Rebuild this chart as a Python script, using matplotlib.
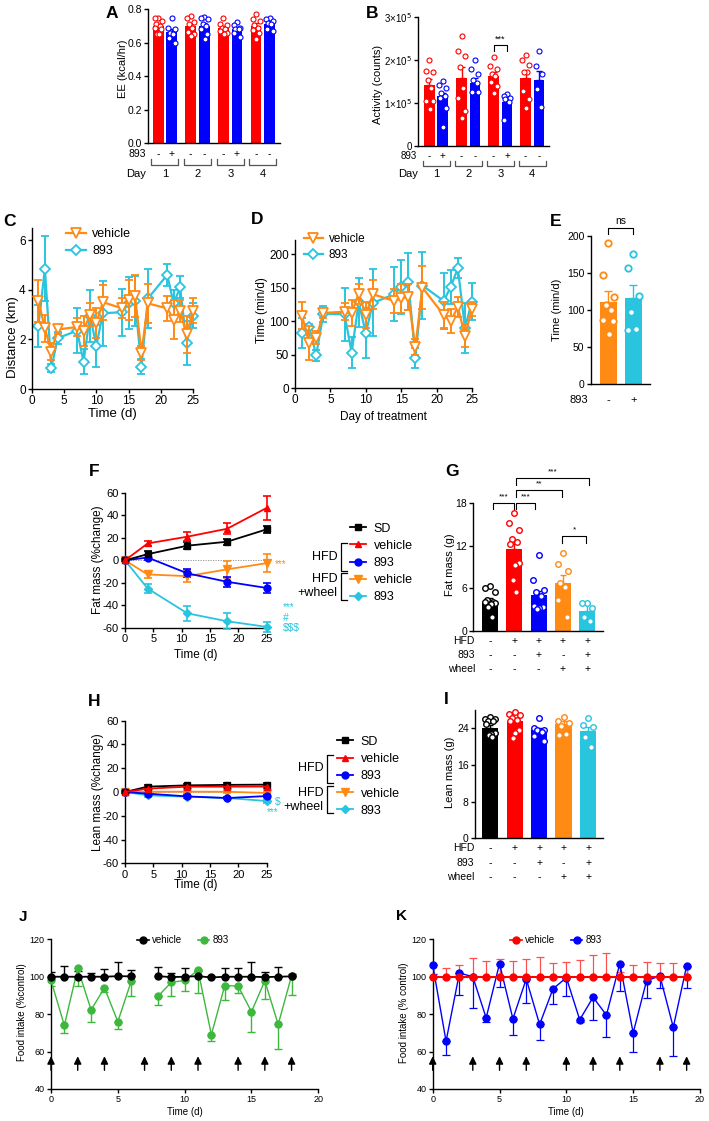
import numpy as np
import matplotlib
matplotlib.use('Agg')
import matplotlib.pyplot as plt
from matplotlib.lines import Line2D
import matplotlib.transforms as mtrans

plt.rcParams['font.family'] = ['Liberation Sans', 'DejaVu Sans']
plt.rcParams['axes.unicode_minus'] = False

W, H = 709, 1121
fig = plt.figure(figsize=(W / 100, H / 100), dpi=100)

RED = '#FF0000'; BLUE = '#0000FF'; ORANGE = '#FF8A14'; CYAN = '#29C4DE'
GREEN = '#3CB83C'; BLACK = '#000000'

# ---------------- data ----------------
# A: energy expenditure
a_means = [0.700, 0.666, 0.700, 0.700, 0.690, 0.683, 0.699, 0.714]
a_err = [0.010, 0.016, 0.015, 0.017, 0.011, 0.012, 0.017, 0.011]
a_pts = [[0.745, 0.745, 0.73, 0.71, 0.70, 0.69, 0.68, 0.66, 0.655, 0.65],
         [0.745, 0.69, 0.685, 0.66, 0.655, 0.63, 0.60],
         [0.76, 0.745, 0.725, 0.715, 0.69, 0.665, 0.65, 0.64],
         [0.755, 0.745, 0.74, 0.71, 0.70, 0.68, 0.655, 0.62],
         [0.745, 0.715, 0.705, 0.69, 0.685, 0.67, 0.66, 0.655],
         [0.725, 0.705, 0.69, 0.685, 0.68, 0.66, 0.635],
         [0.77, 0.74, 0.73, 0.705, 0.69, 0.675, 0.66, 0.625],
         [0.745, 0.74, 0.73, 0.72, 0.71, 0.68, 0.67]]
drug_ab = ['-', '+', '-', '-', '-', '+', '-', '-']
day_labels = ['1', '2', '3', '4']
# B: activity (x1e5 counts)
b_means = [1.41, 1.16, 1.59, 1.47, 1.62, 1.02, 1.57, 1.53]
b_err = [0.14, 0.07, 0.25, 0.12, 0.10, 0.06, 0.17, 0.21]
b_pts = [[2.0, 1.75, 1.73, 1.53, 1.36, 1.05, 1.05, 0.87],
         [1.51, 1.43, 1.36, 1.23, 1.16, 1.12, 0.89, 0.44],
         [2.56, 2.21, 2.09, 1.84, 1.36, 1.12, 0.81, 0.66],
         [1.99, 1.80, 1.68, 1.54, 1.47, 1.26, 1.25],
         [2.07, 1.86, 1.80, 1.68, 1.62, 1.49, 1.39, 1.23],
         [1.20, 1.16, 1.12, 1.09, 1.02, 0.60],
         [2.11, 1.99, 1.88, 1.72, 1.72, 1.29, 1.10, 0.89],
         [2.22, 1.85, 1.67, 1.33, 0.91]]
# C/D: wheel running
cd_days = [1, 2, 3, 4, 7, 8, 9, 10, 11, 14, 15, 16, 17, 18, 21, 22, 23, 24, 25]
c_veh = [3.55, 2.45, 1.5, 2.4, 2.5, 2.35, 3.0, 2.65, 3.5, 3.25, 3.6, 3.75, 1.45, 3.45, 3.25, 2.8, 3.15, 2.2, 3.15]
c_veh_err = [0.85, 0.55, 0.35, 0.2, 0.35, 0.6, 0.45, 0.6, 0.7, 0.4, 0.8, 0.85, 0.3, 0.8, 0.5, 0.8, 0.45, 0.75, 0.5]
c_drug = [2.55, 4.85, 0.85, 2.05, 2.35, 1.1, 2.95, 1.75, 3.05, 3.1, 3.45, 3.55, 0.9, 3.65, 4.6, 3.45, 4.1, 1.85, 2.95]
c_drug_err = [0.85, 1.3, 0.15, 0.25, 0.9, 0.5, 1.05, 0.85, 1.3, 0.95, 1.05, 1.0, 0.3, 1.2, 0.45, 0.55, 0.45, 0.9, 0.5]
d_veh = [108, 67, 75, 112, 114, 112, 141, 109, 140, 130, 134, 136, 61, 150, 109, 100, 121, 78, 118]
d_veh_err = [20, 25, 10, 8, 13, 20, 15, 20, 22, 18, 22, 20, 12, 32, 20, 18, 15, 17, 10]
d_drug = [82, 91, 49, 111, 110, 53, 128, 82, 127, 140, 151, 159, 45, 153, 130, 151, 179, 90, 129]
d_drug_err = [22, 5, 8, 12, 40, 23, 37, 37, 50, 40, 40, 42, 15, 50, 42, 25, 15, 37, 28]
# E
e_means = [111, 115.5]
e_err = [15, 18]
e_pts = [[190.6, 146.5, 117, 106.5, 100, 86, 85, 67], [175, 156, 118.7, 97.5, 73, 73.7]]
e_drug = ['-', '+']
# F/H: body composition time course
fh_days = [0, 4, 11, 18, 25]
fh_names = ['SD', 'vehicle', '893', 'vehicle', '893']
f_vals = [[0, 5.5, 13, 16.5, 27.5],
          [0, 15, 21, 28, 46.5],
          [0, 2.5, -11.5, -19, -24.5],
          [0, -12.5, -14, -8, -2.5],
          [0, -25, -47, -54, -59]]
f_err = [[0.8, 3, 3, 2.5, 3],
         [0.8, 2.5, 4, 5, 10.5],
         [0.8, 2, 3.5, 4.5, 4.5],
         [0.8, 3, 5.5, 7.5, 8],
         [0.8, 4, 6.5, 7, 4.5]]
h_vals = [[0, 4.5, 5.6, 6, 6.2],
          [0, 2.8, 4.5, 4.5, 4.6],
          [0, -1.4, -3.7, -5.1, -3.4],
          [0, 0.2, 0.3, 0.2, -0.8],
          [0, -2.8, -4, -5, -7.6]]
h_err = [[0.5, 1.5, 1.5, 1.5, 1.5],
         [0.5, 1.2, 1.2, 1.2, 1.2],
         [0.5, 1.0, 1.2, 1.2, 1.2],
         [0.5, 1.0, 1.0, 1.0, 1.0],
         [0.5, 1.0, 1.0, 1.0, 1.5]]
# G/I: end-point fat & lean mass
g_means = [4.1, 11.5, 5.04, 6.8, 2.8]
g_err = [0.47, 1.2, 0.6, 1.1, 1.1]
g_pts = [[6.3, 6.1, 5.5, 4.4, 4.1, 4.0, 3.9, 3.8, 3.4, 2.0],
         [16.7, 15.2, 14.2, 12.9, 12.6, 12.3, 9.6, 9.3, 7.2, 5.4],
         [10.7, 7.1, 5.7, 5.5, 4.9, 3.5, 3.3, 3.2, 3.1],
         [11.0, 9.4, 8.5, 6.8, 6.2, 4.4, 2.0],
         [3.9, 3.9, 3.25, 2.0, 1.3]]
i_means = [24.1, 25.5, 23.6, 24.9, 23.4]
i_err = [0.6, 0.5, 0.45, 0.6, 0.8]
i_pts = [[26.5, 26.0, 26.0, 25.6, 25.5, 25.0, 23.0, 22.7, 22.5, 22.0],
         [27.5, 27.1, 26.9, 26.2, 25.8, 25.5, 23.6, 22.9, 21.8],
         [26.2, 24.0, 23.6, 23.6, 23.3, 22.3, 21.3],
         [26.5, 25.5, 25.1, 24.5, 22.8, 22.5],
         [26.3, 24.7, 24.2, 22.2, 19.9]]
row_hfd = ['-', '+', '+', '+', '+']
row_893 = ['-', '-', '+', '-', '+']
row_wheel = ['-', '-', '-', '+', '+']
# J/K: food intake
j_days = [0, 1, 2, 3, 4, 5, 6, 8, 9, 10, 11, 12, 13, 14, 15, 16, 17, 18]
j_veh = [100, 100, 100, 100, 100, 100.3, 100.2, 100.3, 99.8, 100, 100.3, 99.6, 100, 100, 100, 99.8, 100, 100.2]
j_veh_err = [2.5, 5.5, 3, 2, 4, 7.5, 3.5, 5, 2, 4.5, 3, 1, 4.5, 4.5, 8, 2.5, 5, 1]
j_drug = [98, 74, 104.5, 82.3, 94, 76, 97.5, 89.5, 97, 98, 103.5, 69, 95.3, 95, 81.3, 97.8, 74.5, 100.5]
j_drug_err = [3, 4, 9.5, 6.5, 2, 4, 8, 4.5, 7.5, 5.5, 12, 3.5, 7.5, 3.5, 11, 9.5, 13, 10.5]
j_dose = [0, 2, 4, 7, 9, 11, 14, 16, 18]
k_days = list(range(20))
k_veh = [100] * 20
k_veh_err = [7, 4.5, 6, 10, 8.5, 9.5, 8.5, 9.5, 10.5, 7.5, 8, 9, 11.5, 12.5, 2.5, 6, 8, 7.5, 7.5, 5]
k_drug = [106.3, 65.5, 102, 100, 78, 107, 77.5, 98.8, 74.5, 93.5, 99.5, 77, 89, 79.5, 107, 70, 97.8, 100.5, 73, 105.8]
k_drug_err = [5, 7.5, 12, 16.5, 2, 12.5, 8.5, 13, 8.5, 8, 10, 1, 12, 11.5, 14.5, 10, 9, 6.5, 15.5, 12]
k_dose = [0, 3, 5, 7, 10, 12, 14, 17, 19]


# ---------------- helpers ----------------
def panel_ax(x0, yt, x1, yb, tsize=7.5):
    ax = fig.add_axes([x0 / W, 1 - yb / H, (x1 - x0) / W, (yb - yt) / H])
    for s in ['top', 'right']:
        ax.spines[s].set_visible(False)
    for s in ['left', 'bottom']:
        ax.spines[s].set_linewidth(1.0)
    ax.tick_params(direction='out', length=3, width=1.0, pad=1.5, labelsize=tsize)
    return ax


def ftext(xp, yp, s, **kw):
    return fig.text(xp / W, 1 - yp / H, s, **kw)


def fline(xs, ys, **kw):
    kw.setdefault('color', 'k'); kw.setdefault('lw', 0.9)
    fig.add_artist(Line2D([x / W for x in xs], [1 - y / H for y in ys], transform=fig.transFigure, **kw))


def letter(xp, yp, s, size=12.5):
    ftext(xp, yp, s, fontsize=size, fontweight='bold', ha='center', va='center')


def ylab(xp, yp, s, size):
    ftext(xp, yp, s, rotation=90, ha='center', va='center', fontsize=size)


def xlab(xp, yp, s, size):
    ftext(xp, yp, s, ha='center', va='center', fontsize=size)


def spread(vals, w):
    pattern = [0, -1, 1, -0.5, 0.5, -0.9, 0.9, 0.1, -0.3, 0.3]
    order = np.argsort(vals)[::-1]
    off = np.zeros(len(vals))
    for k, idx in enumerate(order):
        off[idx] = pattern[k % len(pattern)] * w
    return off


def bars_with_points(ax, pos, means, errs, pts, cols, width, ms, ew=0.8, cap=2.5):
    ax.bar(pos, means, width=width, color=cols, zorder=1)
    for i in range(len(pos)):
        ax.errorbar(pos[i], means[i], yerr=[[0], [errs[i]]], color=cols[i], capsize=cap,
                    lw=1.0, capthick=1.0, zorder=2)
        off = spread(pts[i], width * 0.32)
        ax.plot(pos[i] + off, pts[i], 'o', ms=ms, mfc='white', mec=cols[i], mew=ew,
                zorder=3, clip_on=False)


def sign_row(ax, xs, signs, yp, label=None, label_xp=None, size=8):
    tr = mtrans.blended_transform_factory(ax.transData, fig.transFigure)
    for x, s in zip(xs, signs):
        ax.text(x, 1 - yp / H, s, transform=tr, ha='center', va='center', fontsize=size)
    if label:
        ftext(label_xp, yp, label, ha='right', va='center', fontsize=size)


def sig_bracket(ax, x1, x2, y, h, txt, size=6.5, lw=0.8):
    ax.plot([x1, x1, x2, x2], [y - h, y, y, y - h], color='k', lw=lw, clip_on=False)
    ax.text((x1 + x2) / 2, y + h * 0.3, txt, ha='center', va='bottom', fontsize=size)


# ---------------- A ----------------
posAB = np.array([0, 1, 2.4, 3.4, 4.8, 5.8, 7.2, 8.2])
colsAB = [RED, BLUE] * 4
axA = panel_ax(148, 9.3, 280, 143)
bars_with_points(axA, posAB, a_means, a_err, a_pts, colsAB, 0.8, 3.6)
axA.set_xlim(-0.74, 8.96); axA.set_ylim(0, 0.8)
axA.set_xticks([])
axA.set_yticks([0, 0.2, 0.4, 0.6, 0.8])
axA.set_yticklabels(['0.0', '0.2', '0.4', '0.6', '0.8'])
ylab(123, 69, 'EE (kcal/hr)', 8)
letter(112, 14, 'A')
sign_row(axA, posAB, drug_ab, 154.3, '893', 145.7, 7.5)
trA = mtrans.blended_transform_factory(axA.transData, fig.transFigure)
for g in range(4):
    x1, x2 = posAB[2 * g] - 0.5, posAB[2 * g + 1] + 0.5
    axA.plot([x1, x1, x2, x2], [1 - 159.3 / H, 1 - 164.5 / H, 1 - 164.5 / H, 1 - 159.3 / H],
             transform=trA, color='#555555', lw=0.9, clip_on=False)
    axA.text((x1 + x2) / 2, 1 - 174.3 / H, day_labels[g], transform=trA, ha='center', va='center', fontsize=8)
ftext(145.7, 174.3, 'Day', ha='right', va='center', fontsize=8)

# ---------------- B ----------------
axB = panel_ax(418, 17, 549, 146, tsize=7)
bars_with_points(axB, posAB, b_means, b_err, b_pts, colsAB, 0.8, 3.6)
axB.set_xlim(-0.86, 8.95); axB.set_ylim(0, 3.0)
axB.set_xticks([])
axB.set_yticks([0, 1, 2, 3])
axB.set_yticklabels(['0', '1×10$^{5}$', '2×10$^{5}$', '3×10$^{5}$'])
sig_bracket(axB, posAB[4], posAB[5], 2.34, 0.12, '***', size=6.5)
ylab(378.3, 84, 'Activity (counts)', 8)
letter(371.7, 13, 'B')
sign_row(axB, posAB, drug_ab, 156, '893', 416.5, 7)
trB = mtrans.blended_transform_factory(axB.transData, fig.transFigure)
for g in range(4):
    x1, x2 = posAB[2 * g] - 0.5, posAB[2 * g + 1] + 0.5
    axB.plot([x1, x1, x2, x2], [1 - 160.5 / H, 1 - 165.5 / H, 1 - 165.5 / H, 1 - 160.5 / H],
             transform=trB, color='#555555', lw=0.9, clip_on=False)
    axB.text((x1 + x2) / 2, 1 - 174.3 / H, day_labels[g], transform=trB, ha='center', va='center', fontsize=8)
ftext(417.7, 174.3, 'Day', ha='right', va='center', fontsize=8)


# ---------------- C / D ----------------
def wheel_lines(ax, days, v, ve, d, de, ms=6.5):
    ax.errorbar(days, d, yerr=de, color=CYAN, marker='D', ms=ms * 0.75, mfc='white', mec=CYAN,
                mew=1.3, lw=1.6, capsize=2.8, capthick=1.4, elinewidth=1.4, clip_on=False, zorder=2)
    ax.errorbar(days, v, yerr=ve, color=ORANGE, marker='v', ms=ms, mfc='white', mec=ORANGE,
                mew=1.3, lw=1.6, capsize=2.8, capthick=1.4, elinewidth=1.4, clip_on=False, zorder=3)


def wheel_legend(ax, xleft, ycenter, size, spacing):
    hs = [Line2D([], [], color=ORANGE, marker='v', ms=6.5, mfc='white', mec=ORANGE, mew=1.3, lw=1.6),
          Line2D([], [], color=CYAN, marker='D', ms=5, mfc='white', mec=CYAN, mew=1.3, lw=1.6)]
    ax.legend(hs, ['vehicle', '893'], loc='center left', bbox_to_anchor=(xleft / W, 1 - ycenter / H),
              bbox_transform=fig.transFigure, frameon=False, borderpad=0, borderaxespad=0,
              handlelength=1.6, handletextpad=0.5, labelspacing=spacing, fontsize=size)


axC = panel_ax(32, 228, 193, 389, tsize=8.5)
wheel_lines(axC, cd_days, c_veh, c_veh_err, c_drug, c_drug_err)
axC.set_xlim(0, 25); axC.set_ylim(0, 6.49)
axC.set_xticks([0, 5, 10, 15, 20, 25]); axC.set_yticks([0, 2, 4, 6])
wheel_legend(axC, 66, 242.5, 9, 0.4)
ylab(12.7, 337, 'Distance (km)', 9.5)
xlab(112.5, 414, 'Time (d)', 9.5)
letter(10, 222, 'C')

axD = panel_ax(295, 240, 472, 388, tsize=8.5)
wheel_lines(axD, cd_days, d_veh, d_veh_err, d_drug, d_drug_err)
axD.set_xlim(0, 25); axD.set_ylim(0, 221)
axD.set_xticks([0, 5, 10, 15, 20, 25]); axD.set_yticks([0, 50, 100, 150, 200])
wheel_legend(axD, 304, 247, 8.5, 0.3)
ylab(261.7, 310, 'Time (min/d)', 8.5)
xlab(383.5, 417, 'Day of treatment', 8.5)
letter(257, 220, 'D')

# ---------------- E ----------------
axE = panel_ax(590.7, 235.7, 650, 384, tsize=7.5)
bars_with_points(axE, [0, 1], e_means, e_err, e_pts, [ORANGE, CYAN], 0.67, 4.6, ew=1.3, cap=3)
axE.set_xlim(-0.7, 1.67); axE.set_ylim(0, 200)
axE.set_xticks([]); axE.set_yticks([0, 50, 100, 150, 200])
sig_bracket(axE, 0, 1, 210.5, 8.5, 'ns', size=7.5)
ylab(557.3, 310, 'Time (min/d)', 8)
letter(556, 221, 'E')
sign_row(axE, [0, 1], e_drug, 400, '893', 588, 8)

# ---------------- F / H ----------------
fh_cols = [BLACK, RED, BLUE, ORANGE, CYAN]
fh_marks = ['s', '^', 'o', 'v', 'D']
fh_ms = [5, 5, 5, 6, 4.5]


def comp_lines(ax, vals, errs):
    ax.axhline(0, color='#888888', lw=0.6, ls=(0, (1.5, 1.5)), zorder=0)
    for k in [4, 3, 2, 0, 1]:
        ax.errorbar(fh_days, vals[k], yerr=errs[k], color=fh_cols[k], marker=fh_marks[k],
                    ms=fh_ms[k], lw=1.3, capsize=2.8, capthick=1.2, elinewidth=1.2,
                    clip_on=False, zorder=3)
    ax.set_xlim(0, 25); ax.set_ylim(-60, 60)
    ax.set_xticks([0, 5, 10, 15, 20, 25]); ax.set_yticks([-60, -40, -20, 0, 20, 40, 60])


def comp_legend(ax, xleft, ycenter, size):
    hs = [Line2D([], [], color=fh_cols[k], marker=fh_marks[k], ms=fh_ms[k], lw=1.3) for k in range(5)]
    ax.legend(hs, fh_names, loc='center left', bbox_to_anchor=(xleft / W, 1 - ycenter / H),
              bbox_transform=fig.transFigure, frameon=False, borderpad=0, borderaxespad=0,
              handlelength=1.3, handletextpad=0.6, labelspacing=0.42, fontsize=size)


def comp_brackets(xv, y1a, y1b, y2a, y2b, ylab1, ylab2a, ylab2b, size):
    for ya, yb in [(y1a, y1b), (y2a, y2b)]:
        fline([xv + 6, xv, xv, xv + 6], [ya, ya, yb, yb], lw=0.9)
    ftext(xv - 3, ylab1, 'HFD', ha='right', va='center', fontsize=size)
    ftext(xv - 3, ylab2a, 'HFD', ha='right', va='center', fontsize=size)
    ftext(xv - 3, ylab2b, '+wheel', ha='right', va='center', fontsize=size)


axF = panel_ax(125, 492.7, 266.7, 628, tsize=8)
comp_lines(axF, f_vals, f_err)
comp_legend(axF, 350, 563, 9)
comp_brackets(340.7, 542.7, 570.7, 573.3, 600, 556.7, 579.3, 593.3, 9)
ftext(275, 564, '***', color=ORANGE, fontsize=7, ha='left', va='center')
ftext(283, 607, '***', color=CYAN, fontsize=7, ha='left', va='center')
ftext(283, 617.7, '#', color=CYAN, fontsize=7.5, ha='left', va='center')
ftext(283, 628.3, r'\$\$\$', color=CYAN, fontsize=7.5, ha='left', va='center')
ylab(98.3, 560, 'Fat mass (%change)', 8.5)
xlab(196, 655, 'Time (d)', 8.5)
letter(94, 471.7, 'F')

axH = panel_ax(125, 720.7, 266.7, 863.3, tsize=8)
comp_lines(axH, h_vals, h_err)
comp_legend(axH, 337, 776.3, 9)
comp_brackets(326.7, 755, 783.3, 786, 813.3, 768.3, 793.3, 806.7, 9)
ftext(275, 801.7, r'\$', color=CYAN, fontsize=7.5, ha='left', va='center')
ftext(266.7, 812, '***', color=CYAN, fontsize=7, ha='left', va='center')
ylab(98.3, 792, 'Lean mass (%change)', 8.5)
xlab(196, 885, 'Time (d)', 8.5)
letter(94, 701.7, 'H')

# ---------------- G / I ----------------
gi_cols = [BLACK, RED, BLUE, ORANGE, CYAN]
posG = np.arange(5)
axG = panel_ax(473.3, 503.3, 603.3, 630.7, tsize=7.5)
bars_with_points(axG, posG, g_means, g_err, g_pts, gi_cols, 0.66, 4.0, ew=1.0)
axG.set_xlim(-0.69, 4.67); axG.set_ylim(0, 18)
axG.set_xticks([]); axG.set_yticks([0, 6, 12, 18])
sig_bracket(axG, 0.14, 0.98, 18.1, 0.95, '***', size=6)
sig_bracket(axG, 1.09, 1.85, 18.1, 0.95, '***', size=6)
sig_bracket(axG, 1.06, 2.98, 19.9, 0.95, '**', size=6)
sig_bracket(axG, 1.06, 4.1, 21.6, 0.95, '***', size=6)
sig_bracket(axG, 2.98, 3.95, 13.4, 0.95, '*', size=6)
ylab(450, 565, 'Fat mass (g)', 8)
letter(451.7, 471.7, 'G')
sign_row(axG, posG, row_hfd, 641.3, 'HFD', 475, 7.5)
sign_row(axG, posG, row_893, 655.3, '893', 475, 7.5)
sign_row(axG, posG, row_wheel, 669.3, 'wheel', 475, 7.5)

axI = panel_ax(475, 710, 602.7, 838.3, tsize=7.5)
bars_with_points(axI, posG, i_means, i_err, i_pts, gi_cols, 0.66, 4.0, ew=1.0)
axI.set_xlim(-0.62, 4.6); axI.set_ylim(0, 28)
axI.set_xticks([]); axI.set_yticks([0, 8, 16, 24])
ylab(450, 772.5, 'Lean mass (g)', 8)
letter(446.7, 700, 'I')
sign_row(axI, posG, row_hfd, 848.3, 'HFD', 474.3, 7.5)
sign_row(axI, posG, row_893, 863.3, '893', 474.3, 7.5)
sign_row(axI, posG, row_wheel, 876.7, 'wheel', 474.3, 7.5)


# ---------------- J / K ----------------
def food_axes(ax):
    ax.set_xlim(0, 20); ax.set_ylim(40, 120)
    ax.set_xticks([0, 5, 10, 15, 20]); ax.set_yticks([40, 60, 80, 100, 120])


def dose_arrows(ax, days):
    for d in days:
        ax.annotate('', xy=(d, 57.5), xytext=(d, 50), annotation_clip=False,
                    arrowprops=dict(arrowstyle='-|>,head_length=0.45,head_width=0.22', color='k', lw=1.0,
                                    shrinkA=0, shrinkB=0))


def food_legend(ax, cv, cd, xleft, ycenter):
    hs = [Line2D([], [], color=cv, marker='o', ms=5, lw=1.2),
          Line2D([], [], color=cd, marker='o', ms=5, lw=1.2)]
    ax.legend(hs, ['vehicle', '893'], loc='center left', ncol=2, bbox_to_anchor=(xleft / W, 1 - ycenter / H),
              bbox_transform=fig.transFigure, frameon=False, borderpad=0, borderaxespad=0,
              handlelength=1.2, handletextpad=0.35, columnspacing=1.6, fontsize=7)


axJ = panel_ax(51, 939.3, 318.3, 1089, tsize=6.5)
jd = np.array(j_days)
seg1 = jd < 7
for m in [seg1, ~seg1]:
    axJ.plot(jd[m], np.array(j_drug)[m], color=GREEN, lw=1.0, marker='o', ms=5, zorder=3, clip_on=False)
    axJ.plot(jd[m], np.array(j_veh)[m], color=BLACK, lw=1.3, marker='o', ms=5, zorder=4, clip_on=False)
axJ.errorbar(j_days, j_drug, yerr=[j_drug_err, np.zeros(len(j_days))], fmt='none', ecolor=GREEN,
             capsize=3, elinewidth=1.0, capthick=1.0, zorder=2)
axJ.errorbar(j_days, j_veh, yerr=[np.zeros(len(j_days)), j_veh_err], fmt='none', ecolor=BLACK,
             capsize=3, elinewidth=1.0, capthick=1.0, zorder=2)
food_axes(axJ)
dose_arrows(axJ, j_dose)
food_legend(axJ, BLACK, GREEN, 137, 940)
ylab(21.7, 1012.5, 'Food intake (%control)', 7)
xlab(185, 1112.3, 'Time (d)', 7)
letter(23, 916.7, 'J', 11)

axK = panel_ax(432.7, 939.3, 700, 1089, tsize=6.5)
axK.errorbar(k_days, k_drug, yerr=[k_drug_err, np.zeros(20)], fmt='none', ecolor=BLUE,
             capsize=3, elinewidth=0.9, capthick=0.9, zorder=2)
axK.errorbar(k_days, k_veh, yerr=[np.zeros(20), k_veh_err], fmt='none', ecolor='#FF5050',
             capsize=3, elinewidth=0.9, capthick=0.9, zorder=2)
axK.plot(k_days, k_drug, color=BLUE, lw=1.0, marker='o', ms=5, zorder=3, clip_on=False)
axK.plot(k_days, k_veh, color=RED, lw=1.5, marker='o', ms=5, zorder=4, clip_on=False)
food_axes(axK)
dose_arrows(axK, k_dose)
food_legend(axK, RED, BLUE, 510, 940)
ylab(404.3, 1012.5, 'Food intake (% control)', 7)
xlab(566, 1112.3, 'Time (d)', 7)
letter(401.7, 916, 'K', 11)

fig.savefig('out.png', dpi=100)
